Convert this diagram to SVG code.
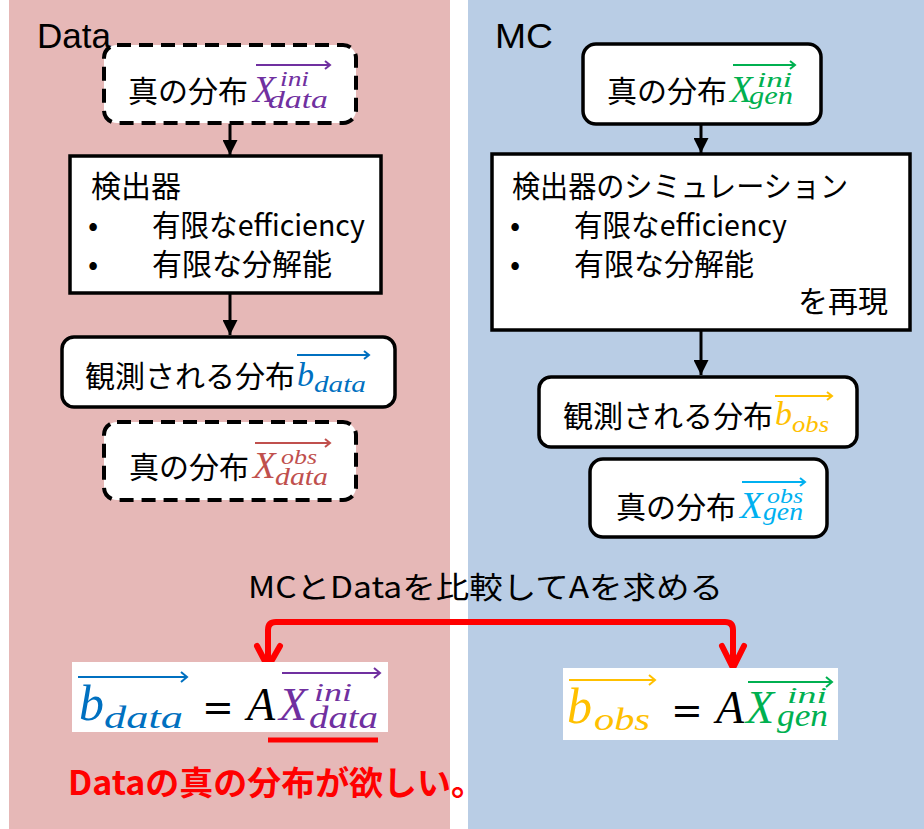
<svg xmlns="http://www.w3.org/2000/svg" width="924" height="829" viewBox="0 0 924 829">
<defs>
<style>
.jp{font-family:"Noto Sans CJK JP","Noto Sans",sans-serif;font-size:30px;fill:#000}
.m{font-family:"Liberation Serif","DejaVu Serif",serif;font-style:italic}
.eq{font-family:"DejaVu Sans",sans-serif;font-size:38px;fill:#000}
.box{fill:#fff;stroke:#000;stroke-width:3.5}
.dash{fill:#fff;stroke:#000;stroke-width:4;stroke-dasharray:14 8}
.conn{stroke:#000;stroke-width:3;fill:none}
.vec{stroke-width:2;fill:none}
.red{stroke:#FF0000;stroke-width:6;fill:none;stroke-linecap:round;stroke-linejoin:round}
</style>
<marker id="ah" viewBox="0 0 10 10" refX="10" refY="5" markerWidth="5" markerHeight="5" markerUnits="strokeWidth" orient="auto">
<path d="M0,0 L10,5 L0,10 Z" fill="#000"/>
</marker>
</defs>
<rect x="9" y="0" width="441" height="829" fill="#E6B8B7"/>
<rect x="468" y="0" width="456" height="829" fill="#B9CDE5"/>
<text x="37" y="48" font-family="Liberation Sans,sans-serif" font-size="35" textLength="74" lengthAdjust="spacingAndGlyphs">Data</text>
<text x="495" y="48" font-family="Liberation Sans,sans-serif" font-size="35" textLength="58" lengthAdjust="spacingAndGlyphs">MC</text>

<g id="connectors">
<line class="conn" x1="230" y1="124" x2="230" y2="155" marker-end="url(#ah)"/>
<line class="conn" x1="230" y1="293" x2="230" y2="335" marker-end="url(#ah)"/>
<line class="conn" x1="701" y1="124" x2="701" y2="153" marker-end="url(#ah)"/>
<line class="conn" x1="701" y1="330" x2="701" y2="375" marker-end="url(#ah)"/>
<path class="red" d="M268,666 L268,630 Q268,622 276,622 L725,622 Q733,622 733,630 L733,668"/>
<path class="red" d="M257,646 L268,667 L280,646"/>
<path class="red" d="M722,646 L733,668 L744,646"/>
</g>

<g id="data-ini">
<rect class="dash" x="104" y="45" width="252" height="78" rx="13"/>
<text class="jp" x="128" y="102">真の分布</text>
<text class="m" x="253" y="102" font-size="37" fill="#7030A0">X</text>
<text class="m" x="280" y="86" font-size="20" fill="#7030A0" textLength="29" lengthAdjust="spacingAndGlyphs">ini</text>
<text class="m" x="268" y="108" font-size="25" fill="#7030A0" textLength="60" lengthAdjust="spacingAndGlyphs">data</text>
<path class="vec" stroke="#7030A0" d="M256,65 L330,65 M325,61 L330,65 L325,69"/>
</g>

<g id="data-detector">
<rect class="box" x="70" y="156" width="311" height="137"/>
<text class="jp" x="91" y="197">検出器</text>
<text class="jp" x="88" y="236">•</text>
<text class="jp" x="152" y="236" textLength="213" lengthAdjust="spacingAndGlyphs">有限なefficiency</text>
<text class="jp" x="88" y="275">•</text>
<text class="jp" x="152" y="275">有限な分解能</text>
</g>

<g id="data-obs">
<rect class="box" x="62" y="337" width="333" height="70" rx="12"/>
<text class="jp" x="85" y="387">観測される分布</text>
<text class="m" x="297" y="386" font-size="34" fill="#0070C0">b</text>
<text class="m" x="314" y="392" font-size="24" fill="#0070C0" textLength="52" lengthAdjust="spacingAndGlyphs">data</text>
<path class="vec" stroke="#0070C0" d="M297,355 L369,355 M364,351 L369,355 L364,359"/>
</g>

<g id="data-obs-true">
<rect class="dash" x="104" y="422" width="252" height="78" rx="13"/>
<text class="jp" x="129" y="478">真の分布</text>
<text class="m" x="253" y="478" font-size="37" fill="#C0504D">X</text>
<text class="m" x="281" y="464" font-size="20" fill="#C0504D" textLength="36" lengthAdjust="spacingAndGlyphs">obs</text>
<text class="m" x="275" y="485" font-size="25" fill="#C0504D" textLength="53" lengthAdjust="spacingAndGlyphs">data</text>
<path class="vec" stroke="#C0504D" d="M255,443 L330,443 M325,439 L330,443 L325,447"/>
</g>

<g id="mc-ini">
<rect class="box" x="583" y="44" width="238" height="80" rx="13"/>
<text class="jp" x="607" y="102">真の分布</text>
<text class="m" x="730" y="102" font-size="37" fill="#00B050">X</text>
<text class="m" x="757" y="87" font-size="20" fill="#00B050" textLength="35" lengthAdjust="spacingAndGlyphs">ini</text>
<text class="m" x="749" y="104" font-size="25" fill="#00B050" textLength="44" lengthAdjust="spacingAndGlyphs">gen</text>
<path class="vec" stroke="#00B050" d="M733,65 L795,65 M790,61 L795,65 L790,69"/>
</g>

<g id="mc-detector">
<rect class="box" x="492" y="154" width="418" height="176"/>
<text class="jp" x="512" y="197" textLength="336" lengthAdjust="spacingAndGlyphs">検出器のシミュレーション</text>
<text class="jp" x="510" y="236">•</text>
<text class="jp" x="574" y="236" textLength="213" lengthAdjust="spacingAndGlyphs">有限なefficiency</text>
<text class="jp" x="510" y="275">•</text>
<text class="jp" x="574" y="275">有限な分解能</text>
<text class="jp" x="888" y="312" text-anchor="end">を再現</text>
</g>

<g id="mc-obs">
<rect class="box" x="539" y="377" width="318" height="70" rx="12"/>
<text class="jp" x="563" y="427">観測される分布</text>
<text class="m" x="775" y="425" font-size="34" fill="#FFC000">b</text>
<text class="m" x="792" y="432" font-size="24" fill="#FFC000" textLength="37" lengthAdjust="spacingAndGlyphs">obs</text>
<path class="vec" stroke="#FFC000" d="M775,396 L832,396 M827,392 L832,396 L827,400"/>
</g>

<g id="mc-obs-true">
<rect class="box" x="590" y="459" width="237" height="78" rx="13"/>
<text class="jp" x="616" y="518">真の分布</text>
<text class="m" x="740" y="518" font-size="37" fill="#00B0F0">X</text>
<text class="m" x="767" y="503" font-size="20" fill="#00B0F0" textLength="36" lengthAdjust="spacingAndGlyphs">obs</text>
<text class="m" x="763" y="520" font-size="25" fill="#00B0F0" textLength="40" lengthAdjust="spacingAndGlyphs">gen</text>
<path class="vec" stroke="#00B0F0" d="M742,482 L805,482 M800,478 L805,482 L800,486"/>
</g>

<text class="jp" x="248" y="598" textLength="475" lengthAdjust="spacingAndGlyphs">MCとDataを比較してAを求める</text>

<g id="eq-data">
<rect x="72" y="662" width="316" height="70" fill="#fff"/>
<text class="m" x="79" y="720" font-size="50" fill="#0070C0">b</text>
<text class="m" x="104" y="728" font-size="32" fill="#0070C0" textLength="79" lengthAdjust="spacingAndGlyphs">data</text>
<path class="vec" stroke="#0070C0" d="M78,677 L187,677 M181,672 L187,677 L181,682"/>
<text class="eq" x="202" y="720">=</text>
<text class="m" x="247" y="720" font-size="46" fill="#000">A</text>
<text class="m" x="279" y="720" font-size="46" fill="#7030A0">X</text>
<text class="m" x="314" y="701" font-size="26" fill="#7030A0" textLength="38" lengthAdjust="spacingAndGlyphs">ini</text>
<text class="m" x="309" y="728" font-size="32" fill="#7030A0" textLength="69" lengthAdjust="spacingAndGlyphs">data</text>
<path class="vec" stroke="#7030A0" d="M282,673 L380,673 M374,668 L380,673 L374,678"/>
<line x1="268" y1="740" x2="378" y2="740" stroke="#FF0000" stroke-width="5"/>
</g>

<g id="eq-mc">
<rect x="563" y="668" width="275" height="72" fill="#fff"/>
<text class="m" x="567" y="723" font-size="50" fill="#FFC000">b</text>
<text class="m" x="594" y="730" font-size="32" fill="#FFC000" textLength="56" lengthAdjust="spacingAndGlyphs">obs</text>
<path class="vec" stroke="#FFC000" d="M569,680 L655,680 M649,675 L655,680 L649,685"/>
<text class="eq" x="671" y="723">=</text>
<text class="m" x="716" y="723" font-size="46" fill="#000">A</text>
<text class="m" x="746" y="723" font-size="46" fill="#00B050">X</text>
<text class="m" x="787" y="703" font-size="24" fill="#00B050" textLength="40" lengthAdjust="spacingAndGlyphs">ini</text>
<text class="m" x="777" y="726" font-size="32" fill="#00B050" textLength="51" lengthAdjust="spacingAndGlyphs">gen</text>
<path class="vec" stroke="#00B050" d="M748,682 L832,682 M826,677 L832,682 L826,687"/>
</g>

<text x="68" y="795" font-family="Noto Sans CJK JP,sans-serif" font-size="33" font-weight="bold" fill="#FF0000" textLength="417" lengthAdjust="spacingAndGlyphs">Dataの真の分布が欲しい。</text>
</svg>
